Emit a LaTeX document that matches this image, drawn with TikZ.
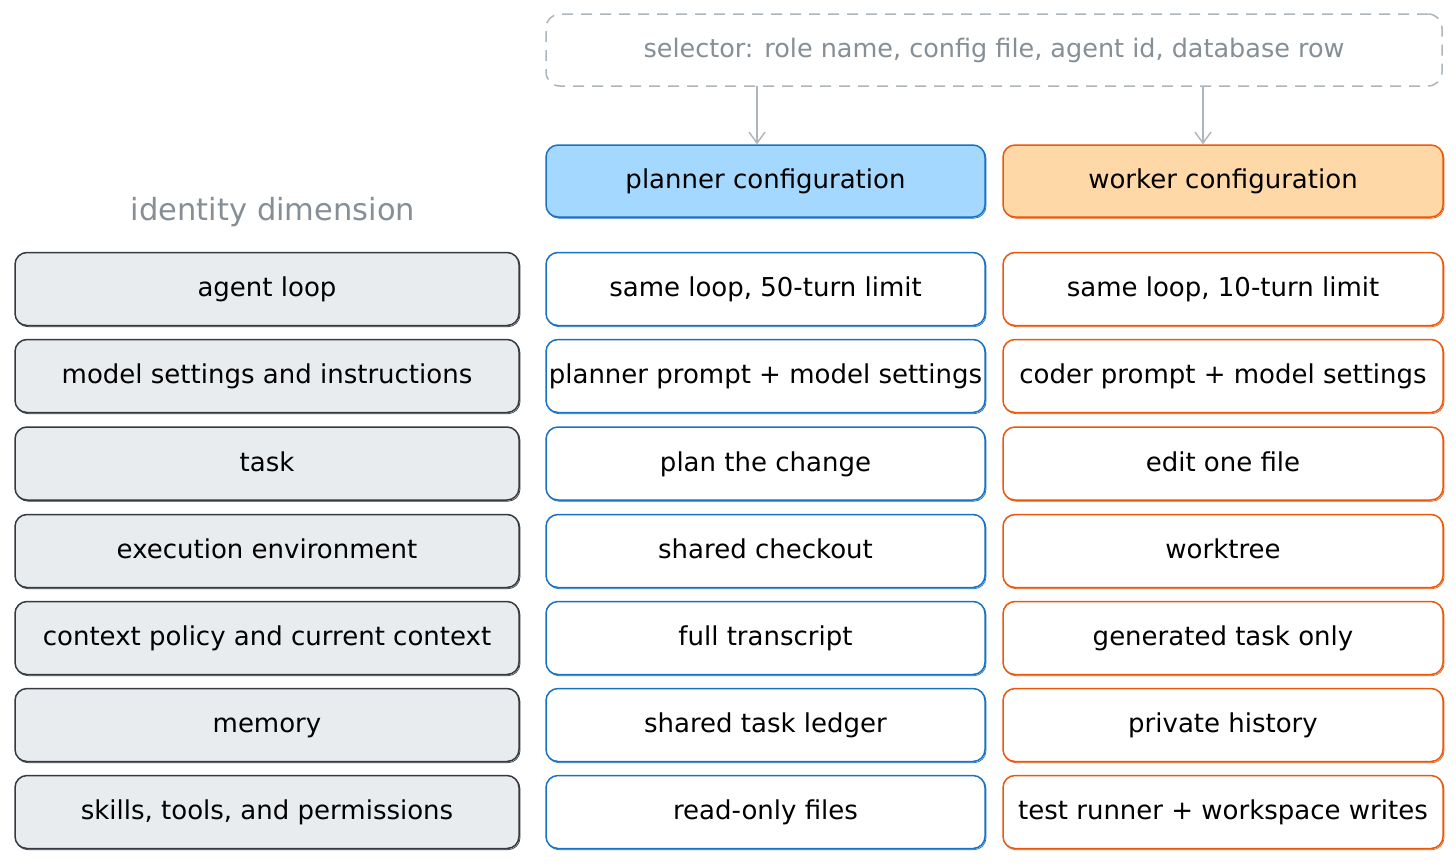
\documentclass[tikz,border=0pt]{standalone}
\usepackage{fontspec}
\setmainfont{DejaVu Sans}
\usetikzlibrary{arrows.meta}
\definecolor{gfill}{HTML}{E9ECEF}
\definecolor{gline}{HTML}{343A40}
\definecolor{bline}{HTML}{1971C2}
\definecolor{bfill}{HTML}{A5D8FF}
\definecolor{oline}{HTML}{E8590C}
\definecolor{ofill}{HTML}{FFD8A8}
\definecolor{dline}{HTML}{ADB5BD}
\definecolor{dtext}{HTML}{868E96}
\tikzset{
  cell/.style={draw, rounded corners=12pt, line width=1.5pt, minimum height=73pt, inner sep=0pt,
    text height=20pt, text depth=5pt,
    font=\fontsize{26}{30}\selectfont, text=black,
    preaction={draw, line width=0.7pt, transform canvas={shift={(1pt,-1.2pt)}}}},
  idcell/.style={cell, draw=gline, fill=gfill, minimum width=504pt},
  plcell/.style={cell, draw=bline, fill=white, minimum width=439pt},
  wkcell/.style={cell, draw=oline, fill=white, minimum width=440pt},
  plhead/.style={plcell, fill=bfill, minimum height=72pt},
  wkhead/.style={wkcell, fill=ofill, minimum height=72pt},
  selbox/.style={draw=dline, dashed, dash pattern=on 11pt off 8pt, rounded corners=14pt, line width=1.5pt,
    minimum width=896pt, minimum height=72pt, inner sep=0pt, text height=20pt, text depth=5pt,
    text=dtext, font=\fontsize{25.5}{30}\selectfont},
  arr/.style={draw=dline, line width=1.4pt, -{Straight Barb[length=11pt,width=16pt,line width=1.4pt]}},
  lbl/.style={text=dtext, inner sep=0pt, text height=24pt, text depth=6pt, font=\fontsize{30.5}{34}\selectfont}
}
\begin{document}
\begin{tikzpicture}[x=1pt,y=-1pt]
\useasboundingbox[fill=white] (0,0) rectangle (1456,865);
\node[selbox] (sel) at (994,50) {selector: role name, config file, agent id, database row};
\node[plhead] (plh) at (765.5,181) {planner configuration};
\node[wkhead] (wkh) at (1223,181) {worker configuration};
\coordinate (a1) at (757,86);
\coordinate (a2) at (1203,86);
\draw[arr] (a1) -- (a1 |- plh.north);
\draw[arr] (a2) -- (a2 |- wkh.north);
\node[lbl] (idl) at (273,211) {identity dimension};
% rows
\node[idcell] (i1) at (267,289) {agent loop};
\node[idcell] (i2) at (267,376) {model settings and instructions};
\node[idcell] (i3) at (267,463.5) {task};
\node[idcell] (i4) at (267,551) {execution environment};
\node[idcell] (i5) at (267,638) {context policy and current context};
\node[idcell] (i6) at (267,725) {memory};
\node[idcell] (i7) at (267,812) {skills, tools, and permissions};
\node[plcell] (p1) at (765.5,289) {same loop, 50-turn limit};
\node[plcell] (p2) at (765.5,376) {planner prompt + model settings};
\node[plcell] (p3) at (765.5,463.5) {plan the change};
\node[plcell] (p4) at (765.5,551) {shared checkout};
\node[plcell] (p5) at (765.5,638) {full transcript};
\node[plcell] (p6) at (765.5,725) {shared task ledger};
\node[plcell] (p7) at (765.5,812) {read-only files};
\node[wkcell] (w1) at (1223,289) {same loop, 10-turn limit};
\node[wkcell] (w2) at (1223,376) {coder prompt + model settings};
\node[wkcell] (w3) at (1223,463.5) {edit one file};
\node[wkcell] (w4) at (1223,551) {worktree};
\node[wkcell] (w5) at (1223,638) {generated task only};
\node[wkcell] (w6) at (1223,725) {private history};
\node[wkcell] (w7) at (1223,812) {test runner + workspace writes};
\end{tikzpicture}
\end{document}
